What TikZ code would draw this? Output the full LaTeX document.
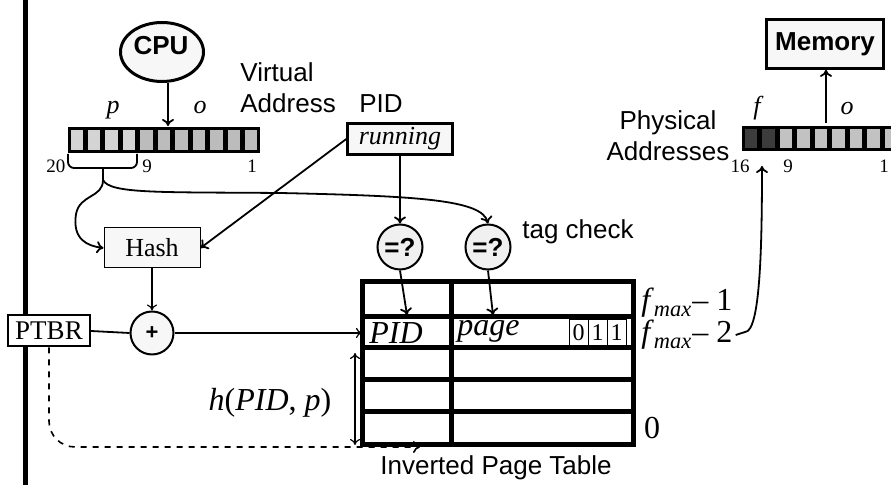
\documentclass[tikz,border=0pt]{standalone}
\usepackage{fontspec}
\setmainfont{Liberation Serif}
\setsansfont{Liberation Sans}
\usetikzlibrary{shapes.geometric,arrows.meta}

\definecolor{celllight}{HTML}{D4D4D4}
\definecolor{celldark}{HTML}{BCBCBC}
\definecolor{framecell}{HTML}{3C3C3C}
\definecolor{framelight}{HTML}{C2C2C2}

\begin{document}
\begin{tikzpicture}[x=0.5pt,y=-0.5pt,
  lbl/.style={font=\fontsize{13}{15.5}\selectfont\sffamily, inner sep=0pt},
  ser/.style={font=\fontsize{13}{15}\selectfont\itshape, inner sep=0pt},
  big/.style={font=\fontsize{16}{18}\selectfont\itshape, inner sep=0pt},
  num/.style={font=\fontsize{9.5}{11}\selectfont, inner sep=0pt},
  arr/.style={-{To[length=3.5pt,width=6pt]}, line width=0.9pt},
  thin arr/.style={-{To[length=3pt,width=5pt]}, line width=0.6pt},
  box/.style={draw, fill=black!3, inner sep=0pt},
  cmp/.style={circle, draw, line width=1pt, fill=black!6, minimum size=22.5pt,
    inner sep=0pt, font=\fontsize{13}{14}\selectfont\sffamily\bfseries},
  tbl/.style={line width=2.5pt},
  bit/.style={draw, line width=0.4pt, minimum width=9.5pt, minimum height=13pt,
    inner sep=0pt, font=\fontsize{12}{13}\selectfont}
]
  \clip (0,0) rectangle (891,485);
  \draw[line width=2.5pt] (25,0) -- (25,485);

  % virtual address
  \node[ellipse, draw, line width=1.5pt, fill=black!3, minimum width=41.5pt, minimum height=29.5pt,
    inner sep=0pt] (cpu) at (162,52) {};
  \node[font=\fontsize{13}{15}\selectfont\sffamily\bfseries, inner sep=0pt] (cputxt) at (161,46) {CPU};
  \fill (68,127) rectangle (260,153);
  \foreach \i in {0,...,3}
    \fill[celllight] ({68+\i*17.45+2.5},130) rectangle ({68+(\i+1)*17.45-2.5},150);
  \foreach \i in {4,...,10}
    \fill[celldark] ({68+\i*17.45+2.5},130) rectangle ({68+(\i+1)*17.45-2.5},150);
  \coordinate (vtop) at (168,126);
  \draw[arr] (cpu.south -| vtop) -- (vtop);
  \node[ser, anchor=base] (plbl) at (113,114) {p};
  \node[ser, anchor=base] (olbl) at (200,114) {o};
  \node[num, anchor=base] (n20) at (56,173) {20};
  \node[num, anchor=base] (n9) at (147,173) {9};
  \node[num, anchor=base] (n1) at (252,173) {1};
  \node[lbl, anchor=west, align=left] (vaddr) at (240,88) {Virtual\\Address};
  \draw[line width=0.9pt, rounded corners=3] (68,154) |- (137,168) -- (137,154);
  \coordinate (brace) at (103,168);

  % pid and hash
  \node[lbl] (pidlbl) at (381,104) {PID};
  \node[box, line width=1.2pt, minimum width=52.5pt, minimum height=15.5pt,
    font=\fontsize{13}{15}\selectfont\itshape] (running) at (400,139) {running};
  \node[box, line width=0.5pt, minimum width=48pt, minimum height=20pt,
    font=\fontsize{13}{15}\selectfont] (hash) at (152,248) {Hash};
  \node[cmp] (eqpid) at (400,247) {=?};
  \node[cmp] (eqpage) at (488,247) {=?};
  \node[lbl, anchor=west] (tag) at (522,232) {tag check};

  \draw[arr] (brace) -- (103,180) .. controls (103,198) and (80,194) .. (76,214)
    .. controls (72,240) and (88,246) .. (hash.west);
  \draw[arr] (103,180) .. controls (110,194) and (160,192) .. (280,193)
    .. controls (420,196) and (482,200) .. (eqpage.north);
  \draw[arr] (running.west) -- (hash.east);
  \draw[arr] (running.south) -- (eqpid.north);

  % ptbr and sum
  \node[draw, line width=1pt, fill=white, minimum width=41pt, minimum height=15.5pt,
    inner sep=0pt, font=\fontsize{13.5}{15}\selectfont] (ptbr) at (49,331) {PTBR};
  \node[cmp, minimum size=21.5pt, fill=black!3, font=\fontsize{11}{12}\selectfont\sffamily\bfseries] (plus) at (152,333) {+};
  \coordinate (pidcell) at (362,333);
  \draw[thin arr] (hash.south) -- (plus.north);
  \draw[line width=0.9pt] (ptbr.east) -- (plus.west);
  \draw[thin arr] (plus.east) -- (pidcell);
  \draw[arr, dashed, line width=0.8pt, rounded corners=13] (ptbr.south) |- (420,447);
  \draw[{To[length=3pt,width=5pt]}-{To[length=3pt,width=5pt]}, line width=0.6pt] (355,353) -- (355,445);
  \node[big, font=\fontsize{16}{18}\selectfont] (hfun) at (270,403) {\textit{h}(\textit{PID}, \textit{p})};

  % inverted page table
  \draw[tbl] (362,282) rectangle (633,445);
  \foreach \y in {317,348,380,412}
    \draw[tbl] (362,\y) -- (633,\y);
  \draw[tbl] (451,282) -- (451,445);
  \node[big] (pidtxt) at (396,333) {PID};
  \node[big, anchor=west] (pagetxt) at (457,331) {page};
  \node[bit] (b0) at (578.5,332.5) {0};
  \node[bit] (b1) at (597.5,332.5) {1};
  \node[bit] (b2) at (616.5,332.5) {1};
  \draw[arr] (eqpid.south) -- (407,315);
  \draw[arr] (eqpage.south) -- (493,315);
  \node[big, font=\fontsize{16}{18}\selectfont, anchor=west] (fm1) at (641,303) {\textit{f}\textsubscript{\textit{max}}– 1};
  \node[big, font=\fontsize{16}{18}\selectfont, anchor=west] (fm2) at (641,335) {\textit{f}\textsubscript{\textit{max}}– 2};
  \node[big, font=\fontsize{16}{18}\selectfont] (zero) at (652,428) {0};
  \node[lbl] (iptlbl) at (496,468) {Inverted Page Table};

  % physical address
  \fill (742,126) rectangle (910,151);
  \foreach \i in {0,1}
    \fill[framecell] ({742+\i*17.5+2.5},129) rectangle ({742+(\i+1)*17.5-2.5},148);
  \foreach \i in {2,...,9}
    \fill[framelight] ({742+\i*17.5+2.5},129) rectangle ({742+(\i+1)*17.5-2.5},148);
  \node[lbl, align=center] (paddr) at (668,136) {Physical\\Addresses};
  \node[ser, anchor=base] (flbl) at (757,115) {f};
  \node[ser, anchor=base] (oplbl) at (847,115) {o};
  \node[num, anchor=base] (n16) at (740,173) {16};
  \node[num, anchor=base] (n9p) at (788,173) {9};
  \node[num, anchor=base] (n1p) at (884,173) {1};
  \node[draw, line width=1.4pt, fill=black!3, minimum width=58.5pt, minimum height=24.5pt,
    inner sep=0pt, font=\fontsize{13}{14}\selectfont\sffamily\bfseries] (memory) at (825,44) {Memory};
  \coordinate (ptop) at (826,123);
  \coordinate (fbit) at (762,166);
  \draw[arr] (ptop) -- (memory.south -| ptop);
  \draw[arr] (fm2.east) ++(3,0) -- (745,332) .. controls (760,332) and (762,250) .. (fbit);
\end{tikzpicture}
\end{document}
